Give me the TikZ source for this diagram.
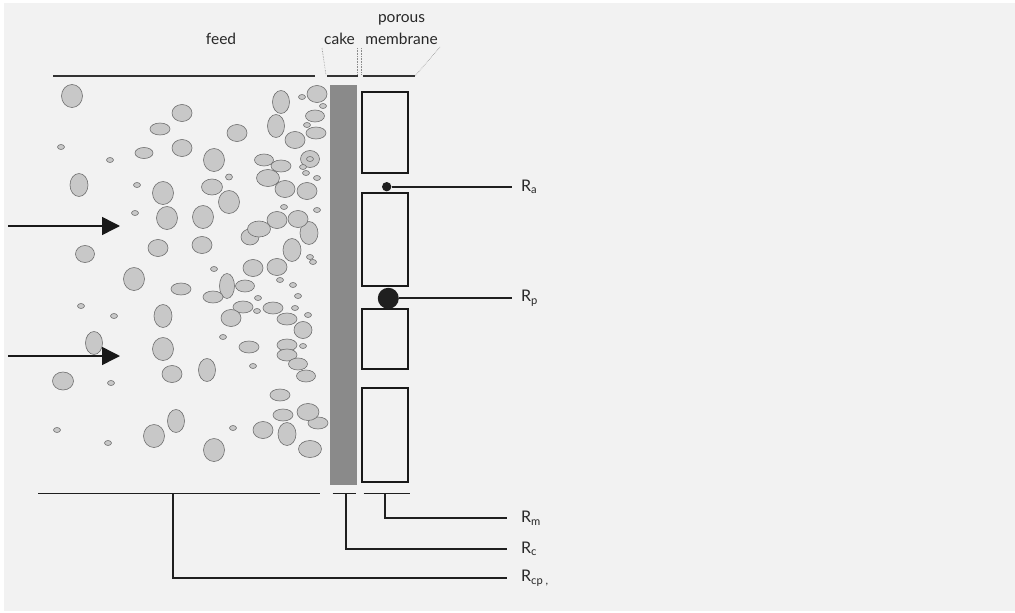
\documentclass[tikz,border=0pt]{standalone}
\usepackage{fontspec}
\setmainfont{Lato}
\usepackage{xcolor}
\usetikzlibrary{arrows.meta,positioning}
\definecolor{paper}{RGB}{242,242,242}
\definecolor{cakegray}{RGB}{138,138,138}
\definecolor{partfill}{RGB}{200,200,200}
\definecolor{partline}{RGB}{110,110,110}
\definecolor{inkgray}{RGB}{40,40,40}

\begin{document}
\begin{tikzpicture}[x=1pt, y=-1pt]
    \tikzstyle{particle} = [draw=partline, fill=partfill, line width=0.6pt]
    \tikzstyle{cakebar} = [rectangle, fill=cakegray, inner sep=0pt, minimum width=27.5pt, minimum height=400pt]
    \tikzstyle{membox} = [rectangle, draw=black!90, line width=2.2pt, minimum width=46.5pt, inner sep=0pt, outer sep=0pt]
    \tikzstyle{solute} = [circle, fill=black!88, inner sep=0pt]
    \tikzstyle{lead} = [line width=1.8pt, black!88]
    \tikzstyle{rule} = [line width=1.6pt, black!80]
    \tikzstyle{guide} = [densely dotted, line width=0.6pt, black!45]
    \tikzstyle{flow} = [line width=1.5pt, black!90, -{Triangle[length=18pt,width=18pt]}]
    \tikzstyle{caption} = [anchor=base, inner sep=0pt, text=inkgray, font=\fontsize{15.5}{18}\selectfont]
    \tikzstyle{rlabel} = [anchor=west, inner sep=0pt, text=inkgray, font=\fontsize{16}{18}\selectfont]

    \useasboundingbox (0,0) rectangle (1015,613);
    \fill[white] (0,0) rectangle (1015,613);
    \fill[paper] (4,3) rectangle (1015,611);

    % suspended particles in the feed
    \foreach \x/\y/\a/\b in {72/96/10.5/11.5, 182/113/10/8.5, 160/129/10/6, 61/147/3.5/2.5,
        110/160/3.5/2.5, 144/153/9/5.5, 182/148/10/8.5, 237/133/10/8.5, 214/160/10.5/11.5,
        79/185/9/11.5, 137/185/3.5/2.5, 163/193/10.5/11.5, 212/187/10.5/8, 229/177/3.5/3,
        229/202/10.5/11.5, 135/213/3.5/2.5, 167/218/10.5/11.5, 203/217/10.5/11.5,
        85/254/9.5/8.5, 158/248/10/8.5, 202/245/10/8.5, 134/279/10.5/11.5, 181/289/10/6,
        214/269/3.5/2.5, 227/286/7.5/12.5, 245/286/9.5/6, 213/297/10/6, 253/268/10/8.5,
        277/267/10/8.5, 258/298/3.5/2.5, 243/307/10/6, 257/311/3.5/2.5, 231/318/10/8.5,
        273/308/10/6, 287/319/10/6, 81/306/3.5/2.5, 114/316/3.5/2.5, 163/316/9/11.5,
        94/343/8.5/11.5, 163/349/10.5/11.5, 223/337/3.5/2.5, 249/347/10/6, 287/345/10/6,
        287/355/10/6, 303/346/3.5/2.5, 303/330/9/8.5, 295/308/3.5/2.5, 298/296/3.5/2.5,
        293/285/3.5/2.5, 280/280/3.5/2.5, 308/315/3.5/2.5, 310/257/3.5/2.5, 313/262/3.5/2.5,
        292/250/9/11.5, 309/233/9/11.5, 298/219/10/8.5, 277/220/10/8.5, 250/237/9/8,
        259/229/11.5/8, 284/207/3.5/2.5, 317/210/3.5/2.5, 63/381/10.5/9, 111/383/3.5/2.5,
        172/374/10/8.5, 207/370/8.5/11.5, 253/366/3.5/2.5, 298/364/9.5/6, 306/376/9.5/6,
        280/395/10/6, 318/423/10/6, 308/412/11/8.5, 283/415/10/6, 263/430/10/8.5,
        287/434/9/11.5, 310/449/11.5/8.5, 233/428/3.5/2.5, 176/421/8.5/11.5,
        154/436/10.5/11.5, 214/450/10.5/11.5, 57/430/3.5/2.5, 108/443/3.5/2.5,
        281/102/8.5/11.5, 302/97/3.5/2.5, 317/94/10/8.5, 323/106/3.5/2.5, 315/116/9.5/6,
        307/125/3.5/2.5, 316/133/10/6, 276/126/8.5/11.5, 295/140/10/8.5, 310/159/9.5/8.5,
        310/159/3.5/2.5, 303/167/3.5/2.5, 306/173/3.5/2.5, 317/178/3.5/2.5, 264/160/9.5/6,
        281/166/10/6, 268/178/11.5/8.5, 285/189/10/8.5, 307/191/10/8.5}
        \draw[particle] (\x,\y) ellipse [x radius=\a pt, y radius=\b pt];

    % cake layer and membrane
    \node (cake) [cakebar] at (343.7,285) {};
    \node (box1) [membox, minimum height=80.7pt] at (385,132.4) {};
    \node (box2) [membox, minimum height=93pt, below=20pt of box1] {};
    \node (box3) [membox, minimum height=59.7pt, below=23.6pt of box2] {};
    \node (box4) [membox, minimum height=94pt, below=19.3pt of box3] {};

    % solutes in the pores
    \node (dota) [solute, minimum size=9.4pt] at (386.7,186.7) {};
    \node (dotp) [solute, minimum size=21pt] at (388.3,298.3) {};

    % headings
    \node (feed) [caption] at (221,44) {feed};
    \node (cakehd) [caption] at (339.5,44) {cake};
    \node (membrane) [caption] at (401.5,44) {membrane};
    \node (porous) [caption] at (401.5,23) {porous};

    \draw[rule] (53,76) -- (315,76);
    \draw[rule] (327,76) -- (357.5,76);
    \draw[rule] (362.5,76) -- (415,76);
    \draw[guide] (322,48) -- (326,75);
    \draw[guide] (357.5,48) -- (357.5,75);
    \draw[guide] (361.5,48) -- (361.5,75);
    \draw[guide] (440,47) -- (415,76);

    % flow direction
    \coordinate (in1) at (8,226);
    \coordinate (tip1) at (120,226);
    \coordinate (in2) at (8,356);
    \coordinate (tip2) at (120,356);
    \draw[flow] (in1) -- (tip1);
    \draw[flow] (in2) -- (tip2);

    % resistances
    \node (Ra) [rlabel] at (521,186.7) {R\textsubscript{a}};
    \node (Rp) [rlabel] at (521,298.3) {R\textsubscript{p}};
    \node (Rm) [rlabel] at (521,518) {R\textsubscript{m}};
    \node (Rc) [rlabel] at (521,549) {R\textsubscript{c}};
    \node (Rcp) [rlabel] at (521,578) {R\textsubscript{cp ,}};

    \draw[lead, shorten >=9pt] (dota) -- (Ra);
    \draw[lead, shorten >=9pt] (dotp) -- (Rp);

    \draw[lead] (38,493.5) -- (320,493.5);
    \draw[lead] (332.5,493.5) -- (356,493.5);
    \draw[lead] (363.5,493.5) -- (409.5,493.5);
    \coordinate (mtick) at (384.6,493.5);
    \coordinate (ctick) at (345.7,493.5);
    \coordinate (cptick) at (173,493.5);
    \draw[lead, shorten >=14pt] (mtick) |- (Rm);
    \draw[lead, shorten >=14pt] (ctick) |- (Rc);
    \draw[lead, shorten >=14pt] (cptick) |- (Rcp);
\end{tikzpicture}
\end{document}
